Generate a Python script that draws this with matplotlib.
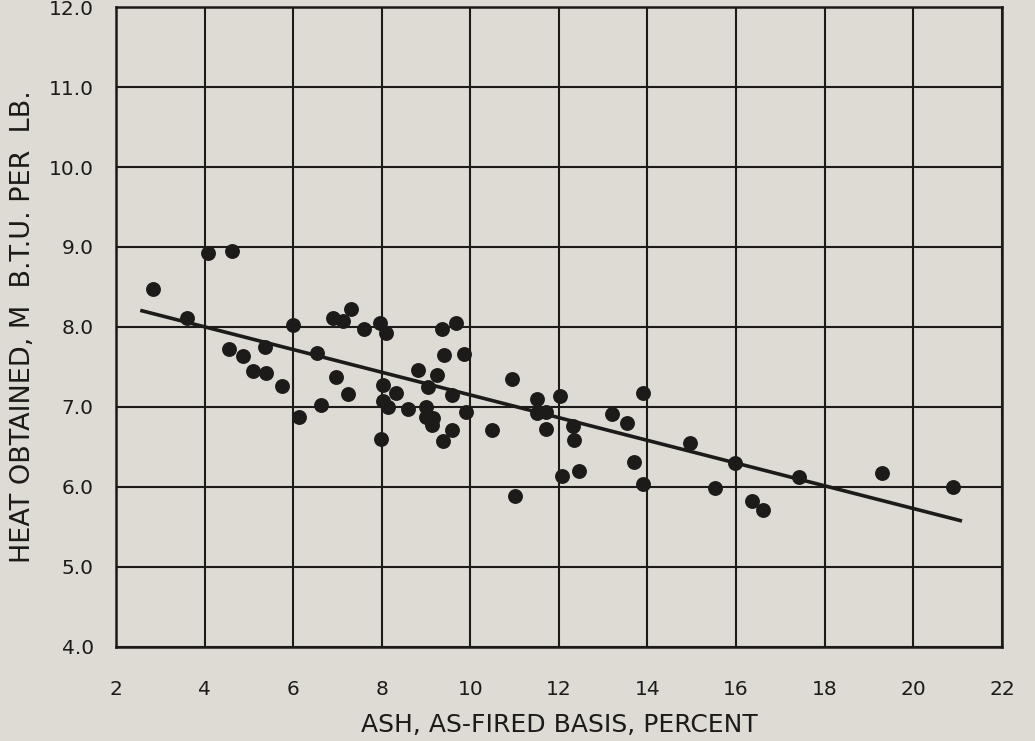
import numpy as np
import matplotlib.pyplot as plt

# ash content (percent, as-fired) and heat obtained (M B.T.U. per lb.)
ash_pct = [2.84, 3.60, 4.08, 4.61, 4.56, 4.87, 5.36, 5.10, 5.39, 5.76,
           6.00, 6.13, 6.55, 6.62, 6.89, 7.12, 7.30, 6.97, 7.25, 7.60,
           7.96, 8.09, 8.02, 8.32, 8.02, 8.14, 7.98, 8.60, 8.83, 9.25,
           9.05, 9.01, 8.99, 9.16, 9.13, 9.39, 9.37, 9.40, 9.67, 9.86,
           9.59, 9.58, 9.91, 10.49, 10.93, 11.01, 11.50, 11.51, 11.72, 11.71,
           12.02, 12.06, 12.31, 12.35, 12.46, 13.19, 13.53, 13.89, 13.70, 13.89,
           14.96, 15.97, 15.52, 16.35, 16.60, 17.42, 19.30, 20.89]
heat_mbtu = [8.48, 8.11, 8.93, 8.95, 7.73, 7.64, 7.75, 7.45, 7.43, 7.26,
             8.03, 6.88, 7.68, 7.03, 8.11, 8.08, 8.23, 7.38, 7.16, 7.97,
             8.05, 7.92, 7.28, 7.18, 7.08, 7.00, 6.60, 6.98, 7.46, 7.40,
             7.25, 7.00, 6.88, 6.86, 6.77, 6.57, 7.98, 7.65, 8.05, 7.66,
             7.15, 6.71, 6.94, 6.71, 7.35, 5.89, 7.10, 6.92, 6.94, 6.72,
             7.14, 6.14, 6.76, 6.59, 6.20, 6.91, 6.80, 7.17, 6.31, 6.04,
             6.55, 6.30, 5.99, 5.82, 5.71, 6.12, 6.17, 6.00]

# fitted trend line
fit_x = [2.55, 21.1]
fit_slope = -0.142
fit_icpt = 8.57

x_ticks = list(range(2, 23, 2))
y_ticks = [4.0, 5.0, 6.0, 7.0, 8.0, 9.0, 10.0, 11.0, 12.0]

bg = '#dddbd3'
ink = '#1c1b1a'

fig = plt.figure(figsize=(10.35, 7.41), dpi=100, facecolor=bg)
ax = fig.add_axes([0.112, 0.127, 0.856, 0.8635], facecolor=bg)

ax.set_xlim(2, 22)
ax.set_ylim(4, 12)
ax.set_xticks(x_ticks)
ax.set_yticks(y_ticks)
ax.set_xticklabels([str(t) for t in x_ticks])
ax.set_yticklabels(['%.1f' % t for t in y_ticks])
ax.tick_params(axis='both', length=0, labelsize=14.5, colors=ink)
ax.tick_params(axis='x', pad=24)
ax.tick_params(axis='y', pad=16)

ax.grid(True, color=ink, linewidth=1.5)
ax.set_axisbelow(True)
for s in ax.spines.values():
    s.set_color(ink)
    s.set_linewidth(1.8)

fx = np.array(fit_x)
ax.plot(fx, fit_icpt + fit_slope * fx, color=ink, linewidth=2.6,
        solid_capstyle='butt', zorder=3)
ax.scatter(ash_pct, heat_mbtu, s=115, color=ink, zorder=4, linewidths=0)

ax.set_xlabel('ASH, AS-FIRED BASIS, PERCENT', fontsize=18, color=ink, labelpad=10)
ax.set_ylabel('HEAT OBTAINED, M  B.T.U. PER  LB.', fontsize=19.5, color=ink, labelpad=9)

fig.savefig('out.png', dpi=100, facecolor=bg)
